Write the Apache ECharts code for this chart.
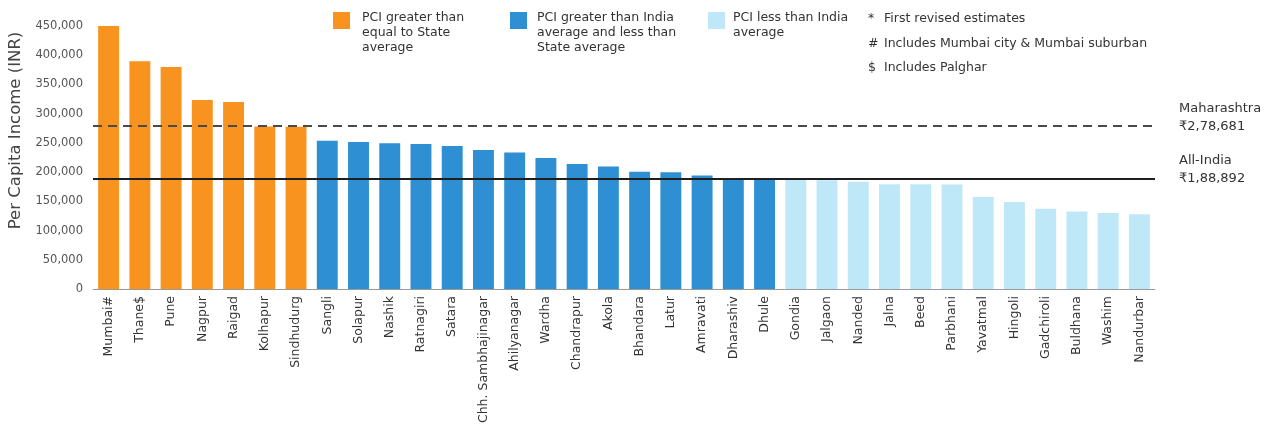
<!DOCTYPE html>
<html>
<head>
<meta charset="utf-8">
<script src="https://cdn.jsdelivr.net/npm/echarts@6/dist/echarts.min.js"></script>
<style>
html,body{margin:0;padding:0;background:#fff;}
#c{width:1272px;height:431px;}
</style>
</head>
<body>
<div id="c"></div>
<script>
// ---- data ----
const districts = ['Mumbai#','Thane$','Pune','Nagpur','Raigad','Kolhapur','Sindhudurg',
  'Sangli','Solapur','Nashik','Ratnagiri','Satara','Chh. Sambhajinagar','Ahilyanagar','Wardha',
  'Chandrapur','Akola','Bhandara','Latur','Amravati','Dharashiv','Dhule',
  'Gondia','Jalgaon','Nanded','Jalna','Beed','Parbhani','Yavatmal','Hingoli','Gadchiroli',
  'Buldhana','Washim','Nandurbar'];
const pci = [450000,389500,380000,323500,320000,278000,277500,
  253800,251600,249200,248100,244700,237800,233700,224000,
  213700,209600,200500,199800,194100,189500,189000,
  187500,186200,183300,179300,179300,179000,157400,148800,137300,
  132800,129900,127700];
// group: 0 = >= State average, 1 = between India and State average, 2 = < India average
const groups = [0,0,0,0,0,0,0,
  1,1,1,1,1,1,1,1,1,1,1,1,1,1,1,
  2,2,2,2,2,2,2,2,2,2,2,2];
const groupNames = ['PCI greater than\nequal to State\naverage',
  'PCI greater than India\naverage and less than\nState average',
  'PCI less than India\naverage'];
const stateAvg = 278681;
const indiaAvg = 188892;
const stateLabel = 'Maharashtra\n₹2,78,681';
const indiaLabel = 'All-India\n₹1,88,892';
const notes = [['*','First revised estimates'],['#','Includes Mumbai city & Mumbai suburban'],['$','Includes Palghar']];
const yTicks = [0,50000,100000,150000,200000,250000,300000,350000,400000,450000];

// ---- chart ----
const colors = ['#F7931E','#2E8FD2','#BEE8F8'];
const FONT = 'DejaVu Sans';
const chart = echarts.init(document.getElementById('c'), null, {renderer:'canvas'});

const series = [0,1,2].map(g => ({
  name: groupNames[g],
  type: 'bar',
  barGap: '-100%',
  barCategoryGap: '33%',
  itemStyle: {color: colors[g]},
  data: pci.map((v,i) => groups[i] === g ? v : null),
  animation: false
}));
series[0].markLine = {
  silent: true,
  symbol: 'none',
  animation: false,
  data: [
    {yAxis: stateAvg, lineStyle:{color:'#4a4a4a', width:2, type:[9,6]},
     label:{formatter: stateLabel + '\n '}},
    {yAxis: indiaAvg, lineStyle:{color:'#1f1f1f', width:2, type:'solid'},
     label:{formatter: indiaLabel + '\n '}}
  ],
  label: {
    show: true, position: 'end', distance: 24,
    color: '#333', fontFamily: FONT, fontSize: 13, lineHeight: 18,
    align: 'left'
  }
};

const graphic = [];
const legX = [333, 510, 708];
const legTX = [362, 537, 733];
const LF = '12.5px "DejaVu Sans"';
for (let g = 0; g < 3; g++) {
  graphic.push({type:'rect', left: legX[g], top: 12, shape:{width:17,height:17}, style:{fill: colors[g]}});
  graphic.push({type:'text', left: legTX[g], top: 10, style:{text: groupNames[g], fill:'#333', font: LF, lineHeight: 15}});
}
const noteY = [12, 37, 61];
notes.forEach((n, i) => {
  graphic.push({type:'text', left: 868, top: noteY[i], style:{text: n[0], fill:'#333', font: LF}});
  graphic.push({type:'text', left: 884, top: noteY[i], style:{text: n[1], fill:'#333', font: LF}});
});

chart.setOption({
  animation: false,
  textStyle: {fontFamily: FONT},
  grid: {left: 93, right: 117, top: 26, bottom: 142, outerBoundsMode: 'none', containLabel: false},
  xAxis: {
    type: 'category',
    data: districts,
    axisLine: {show: true, lineStyle: {color: '#9a9a9a', width: 1}},
    axisTick: {show: false},
    axisLabel: {rotate: 90, interval: 0, margin: 7, color: '#333', fontSize: 12.5, fontFamily: FONT}
  },
  yAxis: {
    type: 'value',
    min: 0, max: 450000, interval: 50000,
    name: 'Per Capita Income (INR)',
    nameLocation: 'middle',
    nameGap: 68,
    nameTextStyle: {fontSize: 16.5, color: '#444', fontFamily: FONT, padding: [0,0,0,54]},
    axisLine: {show: false},
    axisTick: {show: false},
    splitLine: {show: false},
    axisLabel: {
      margin: 10, color: '#555', fontSize: 11.5, fontFamily: FONT,
      formatter: v => yTicks.includes(v) ? v.toLocaleString('en-US') : ''
    }
  },
  series: series,
  graphic: graphic
});
</script>
</body>
</html>
